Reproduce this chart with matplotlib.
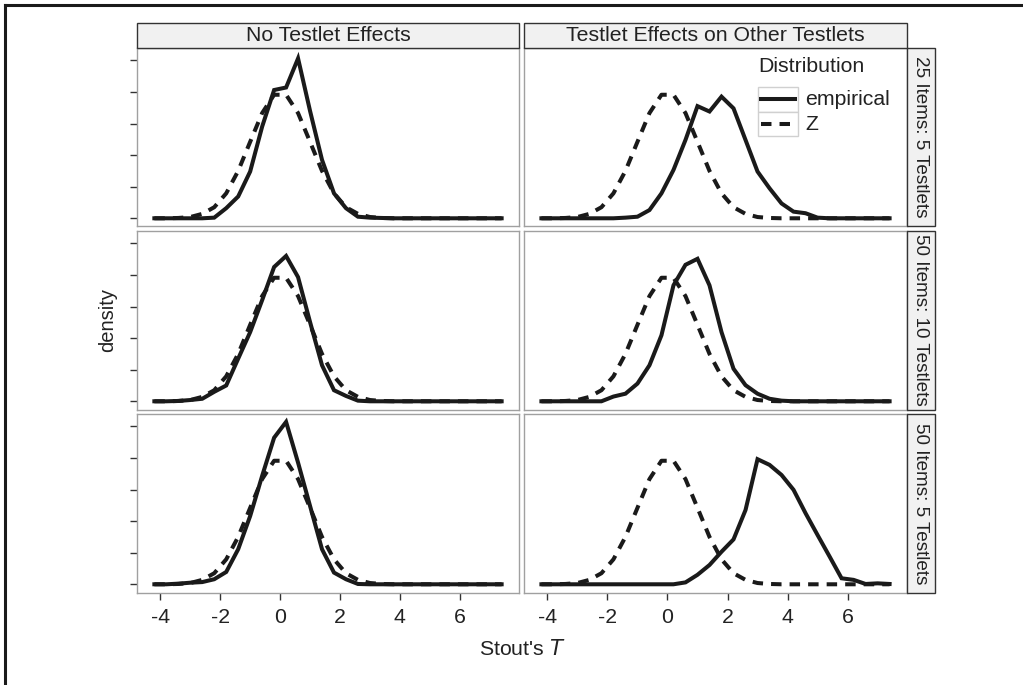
import matplotlib
matplotlib.use("Agg")
import matplotlib.pyplot as plt
from matplotlib.patches import Rectangle
from matplotlib.lines import Line2D

plt.rcParams['font.family'] = ['Liberation Sans', 'DejaVu Sans']

# grid of Stout's T values (frequency polygon vertices)
stout_t = [-4.2, -3.8, -3.4, -3.0, -2.6, -2.2, -1.8, -1.4, -1.0, -0.6,
           -0.2, 0.2, 0.6, 1.0, 1.4, 1.8, 2.2, 2.6, 3.0, 3.4,
           3.8, 4.2, 4.6, 5.0, 5.4, 5.8, 6.2, 6.6, 7.0, 7.4]

# reference standard normal
z_density = [0.000, 0.000, 0.001, 0.004, 0.014, 0.035, 0.079, 0.150, 0.242, 0.333,
             0.391, 0.391, 0.333, 0.242, 0.150, 0.079, 0.035, 0.014, 0.004, 0.001,
             0.000, 0.000, 0.000, 0.000, 0.000, 0.000, 0.000, 0.000, 0.000, 0.000]

# empirical densities, one list per panel
emp_25i5t_none = [0, 0, 0, 0, 0, 0.002, 0.032, 0.069, 0.148, 0.290,
                  0.406, 0.414, 0.506, 0.340, 0.185, 0.079, 0.032, 0.005, 0.002, 0.001,
                  0, 0, 0, 0, 0, 0, 0, 0, 0, 0]
emp_25i5t_other = [0, 0, 0, 0, 0, 0, 0, 0.002, 0.005, 0.026,
                   0.079, 0.153, 0.248, 0.355, 0.338, 0.385, 0.348, 0.248, 0.148, 0.095,
                   0.047, 0.021, 0.016, 0.002, 0, 0, 0, 0, 0, 0]
emp_50i10t_none = [0, 0, 0.001, 0.004, 0.008, 0.030, 0.050, 0.135, 0.219, 0.320,
                   0.425, 0.460, 0.393, 0.251, 0.114, 0.035, 0.017, 0.002, 0, 0,
                   0, 0, 0, 0, 0, 0, 0, 0, 0, 0]
emp_50i10t_other = [0, 0, 0, 0, 0, 0, 0.015, 0.024, 0.056, 0.114,
                    0.209, 0.367, 0.432, 0.451, 0.367, 0.219, 0.103, 0.051, 0.024, 0.008,
                    0.002, 0, 0, 0, 0, 0, 0, 0, 0, 0]
emp_50i5t_none = [0, 0, 0.002, 0.005, 0.007, 0.016, 0.039, 0.111, 0.216, 0.343,
                  0.464, 0.514, 0.385, 0.248, 0.111, 0.037, 0.016, 0.001, 0, 0,
                  0, 0, 0, 0, 0, 0, 0, 0, 0, 0]
emp_50i5t_other = [0, 0, 0, 0, 0, 0, 0, 0, 0, 0,
                   0, 0, 0.006, 0.030, 0.061, 0.103, 0.142, 0.235, 0.396, 0.378,
                   0.346, 0.299, 0.225, 0.156, 0.088, 0.019, 0.014, 0.001, 0.003, 0.001]

col_labels = ["No Testlet Effects", "Testlet Effects on Other Testlets"]
row_labels = ["25 Items: 5 Testlets", "50 Items: 10 Testlets", "50 Items: 5 Testlets"]
empirical = [[emp_25i5t_none, emp_25i5t_other],
             [emp_50i10t_none, emp_50i10t_other],
             [emp_50i5t_none, emp_50i5t_other]]
x_ticks = [-4, -2, 0, 2, 4, 6]
y_ticks = [0, 0.1, 0.2, 0.3, 0.4, 0.5]

W, H = 1023, 685
fig = plt.figure(figsize=(W / 100, H / 100), dpi=100)


def box(x0, y0, x1, y1):
    # pixel box (top-left origin) -> figure fraction rect
    return [x0 / W, 1 - y1 / H, (x1 - x0) / W, (y1 - y0) / H]


ink = '#1a1a1a'
txt = '#222222'
fs = 15.3       # horizontal text
fs_rot = 13.6   # rotated strip text
col_x = [(137, 519), (524, 907)]
row_y = [(48, 226.5), (231, 409.5), (414, 592.5)]

for r in range(3):
    for c in range(2):
        ax = fig.add_axes(box(col_x[c][0], row_y[r][0], col_x[c][1], row_y[r][1]))
        ax.plot(stout_t, empirical[r][c], color=ink, lw=2.9, solid_joinstyle='miter')
        ax.plot(stout_t, z_density, color=ink, lw=2.9, dashes=(2.6, 2.0),
                dash_capstyle='butt')
        ax.set_xlim(-4.78, 7.98)
        ax.set_ylim(-0.026, 0.539)
        for s in ax.spines.values():
            s.set_color('#a0a0a0')
            s.set_linewidth(1.0)
        ax.set_yticks(y_ticks)
        ax.set_xticks(x_ticks)
        ax.tick_params(colors='#333333', length=5, width=1.0, labelsize=fs,
                       labelcolor=txt, pad=6)
        ax.set_yticklabels([])
        if c == 1:
            ax.tick_params(axis='y', left=False)
        if r < 2:
            ax.tick_params(axis='x', bottom=False, labelbottom=False)
        else:
            ax.set_xticklabels([str(t) for t in x_ticks])

# column strips
for c in range(2):
    fig.patches.append(Rectangle((col_x[c][0] / W, 1 - 48 / H), (col_x[c][1] - col_x[c][0]) / W,
                                 25 / H, transform=fig.transFigure, facecolor='#f1f1f1',
                                 edgecolor='#333333', lw=1.0))
    fig.text((col_x[c][0] + col_x[c][1]) / 2 / W, 1 - 35.5 / H, col_labels[c],
             ha='center', va='center', fontsize=fs, color=txt)

# row strips
for r in range(3):
    fig.patches.append(Rectangle((907 / W, 1 - row_y[r][1] / H), 28 / W,
                                 (row_y[r][1] - row_y[r][0]) / H, transform=fig.transFigure,
                                 facecolor='#f1f1f1', edgecolor='#333333', lw=1.0))
    fig.text(921 / W, 1 - (row_y[r][0] + row_y[r][1]) / 2 / H, row_labels[r],
             ha='center', va='center', rotation=270, fontsize=fs_rot, color=txt)

# legend inside top right panel
fig.text(758 / W, 1 - 67 / H, "Distribution", ha='left', va='center',
         fontsize=fs, color=txt)
for i, (lab, dash) in enumerate([("empirical", None), ("Z", (2.6, 2.0))]):
    y0 = 87 + i * 24.5
    fig.patches.append(Rectangle((758 / W, 1 - (y0 + 24.5) / H), 40 / W, 24.5 / H,
                                 transform=fig.transFigure, facecolor='white',
                                 edgecolor='#d0d0d0', lw=1.0))
    ln = Line2D([761 / W, 795 / W], [1 - (y0 + 12.25) / H] * 2, transform=fig.transFigure,
                color=ink, lw=2.9)
    if dash:
        ln.set_dashes(dash)
        ln.set_dash_capstyle('butt')
    fig.lines.append(ln)
    fig.text(805 / W, 1 - (y0 + 12.5) / H, lab, ha='left', va='center',
             fontsize=fs, color=txt)

# axis titles
fig.text(108 / W, 1 - 320 / H, "density", rotation=90, ha='center', va='center',
         fontsize=fs_rot + 0.9, color=txt)
fig.text(522 / W, 1 - 649 / H, "Stout's $\\mathit{T}$", ha='center', va='center',
         fontsize=fs, color=txt)

# outer frame (top and left edges visible)
fig.lines.append(Line2D([4.5 / W, 1], [1 - 5 / H, 1 - 5 / H], transform=fig.transFigure,
                        color='#1a1a1a', lw=2.2))
fig.lines.append(Line2D([4.5 / W, 4.5 / W], [0, 1 - 5 / H], transform=fig.transFigure,
                        color='#1a1a1a', lw=2.2))

fig.savefig("out.png", dpi=100)
